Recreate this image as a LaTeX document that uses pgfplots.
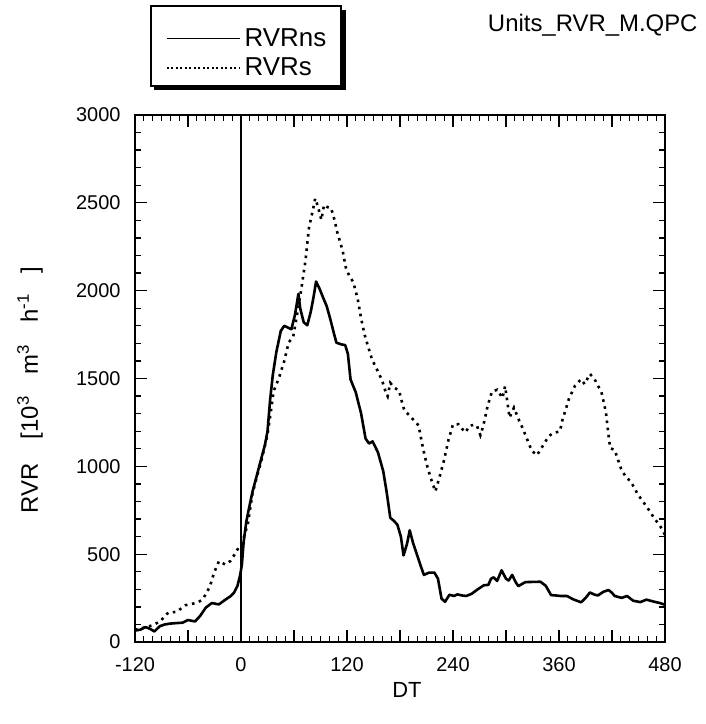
\documentclass[border=0pt]{standalone}
\usepackage{fontspec}
\setmainfont{Liberation Sans}
\usepackage{pgfplots}
\pgfplotsset{compat=1.18}
\usepackage{pgfplotstable}

% RVR without suspended load (solid) and with (dotted)
\pgfplotstableread{
x y
-120 65
-114 70
-108 85
-103 75
-98 60
-92 90
-86 100
-80 105
-72 108
-66 110
-60 125
-52 117
-46 150
-40 195
-33 222
-25 214
-18 240
-12 260
-8 280
-4 320
-1 380
1 440
3 570
6 684
9 760
13 855
18 950
23 1045
27 1120
30 1199
33 1380
36 1520
40 1650
45 1770
49 1800
53 1790
57 1780
61 1860
65 1982
67 1900
71 1820
75 1803
79 1880
82 1960
85 2052
89 2010
93 1960
97 1912
101 1840
105 1760
108 1704
113 1695
118 1690
121 1640
124 1495
130 1420
136 1300
141 1158
145 1130
149 1142
155 1080
161 973
165 850
169 707
173 690
177 668
181 600
184 493
188 560
191 636
195 560
199 501
203 440
207 382
213 395
219 395
223 360
227 247
231 229
236 269
241 262
245 271
250 265
255 262
261 274
268 300
275 323
280 325
283 360
286 368
290 348
295 408
300 360
303 350
307 382
311 340
314 318
318 330
322 341
330 342
339 343
345 320
351 267
356 265
362 262
369 262
376 243
385 226
390 250
395 282
400 270
404 265
410 285
416 296
420 280
423 262
431 251
437 262
444 235
452 227
459 241
468 229
474 222
480 212
}\rvrns

\pgfplotstableread{
x y
-120 70
-114 75
-108 85
-100 95
-91 119
-86 150
-82 168
-76 170
-72 173
-67 195
-63 209
-58 215
-54 219
-48 228
-44 240
-39 278
-35 320
-32 370
-29 412
-25 460
-21 450
-18 441
-14 455
-12 461
-7 500
-3 535
0 555
4 607
8 680
13 845
18 940
23 1030
30 1180
34 1320
37 1428
43 1504
49 1600
54 1706
59 1735
63 1849
68 2000
73 2171
77 2360
81 2450
84 2525
87 2480
91 2403
94 2488
98 2475
102 2470
106 2400
109 2332
115 2229
119 2124
123 2080
127 2050
132 1955
136 1842
140 1748
144 1680
148 1614
152 1570
156 1530
160 1484
164 1420
166 1399
169 1475
173 1450
179 1430
182 1370
185 1317
191 1289
196 1260
201 1233
205 1129
208 1060
211 998
215 930
220 857
225 943
230 1038
235 1153
240 1239
246 1240
250 1215
254 1193
259 1232
263 1235
267 1233
271 1177
274 1225
279 1339
284 1425
290 1436
296 1389
299 1456
302 1350
304 1277
309 1334
315 1259
319 1215
323 1166
329 1090
335 1063
341 1111
348 1169
353 1189
361 1199
364 1266
368 1330
371 1381
378 1458
385 1496
389 1468
395 1526
400 1499
404 1460
408 1424
413 1311
416 1180
418 1103
423 1094
430 990
436 935
441 917
449 842
457 786
462 750
467 711
475 656
480 610
}\rvrs

\begin{document}
\begin{tikzpicture}
\useasboundingbox (-135bp,-82bp) rectangle (571bp,642bp);
\begin{axis}[
    scale only axis,
    width=530bp,
    height=527bp,
    xmin=-120, xmax=480,
    ymin=0, ymax=3000,
    xtick={-120,-60,...,480},
    xticklabels={-120,,0,,120,,240,,360,,480},
    ytick={0,500,...,3000},
    minor x tick num=5,
    minor y tick num=4,
    tick align=inside,
    major tick length=12bp,
    minor tick length=6bp,
    tick style={line width=1.3bp, black},
    axis line style={line width=1.8bp},
    ticklabel style={font=\fontsize{20}{22}\selectfont},
    /pgf/number format/assume math mode=true,
    /pgf/number format/set thousands separator={},
    xticklabel style={yshift=-12bp},
    yticklabel style={xshift=-11bp},
    xlabel={DT},
    xlabel style={font=\fontsize{22}{24}\selectfont, at={(axis description cs:0.513,-0.091)}, anchor=center},
    ylabel={RVR\hspace{24bp}[10\textsuperscript{3}\hspace{22bp}m\textsuperscript{3}\hspace{22bp}h\textsuperscript{-1}\hspace{20bp}]},
    ylabel style={font=\fontsize{24}{26}\selectfont, at={(axis description cs:-0.198,0.478)}, anchor=center},
    legend style={name=leg, at={(0.030,1.179)}, anchor=north west, draw=none, fill=none,
        font=\fontsize{26}{28}\selectfont, inner xsep=15bp, inner ysep=8bp,
        row sep=10bp, column sep=4bp, nodes={inner sep=0pt}},
    legend cell align=left,
    legend image code/.code={\draw[#1] (0bp,0bp) -- (73bp,0bp);},
]
\addplot[black, line width=2.6bp, line join=round,
    legend image post style={line width=1.6bp}] table[x=x, y=y] {\rvrns};
\addlegendentry{RVRns}
\addplot[black, line width=2.6bp, dash pattern=on 2.6bp off 4.6bp,
    legend image post style={line width=1.5bp, dash pattern=on 2bp off 2.5bp}] table[x=x, y=y] {\rvrs};
\addlegendentry{RVRs}
\addplot[black, line width=1.3bp, forget plot] coordinates {(0,0) (0,3000)};
\end{axis}
% legend frame (taller at the top) with its drop shadow
\draw[line width=2bp] ([yshift=14.5bp]leg.north west) rectangle (leg.south east);
\fill ([xshift=1bp,yshift=11bp]leg.north east) rectangle ([xshift=4.5bp,yshift=-4.5bp]leg.south east);
\fill ([xshift=3.5bp,yshift=-1bp]leg.south west) rectangle ([xshift=4.5bp,yshift=-4.5bp]leg.south east);
\node[anchor=base east, font=\fontsize{24}{26}\selectfont] at (566bp,610bp) {Units\_RVR\_M.QPC};
\end{tikzpicture}
\end{document}
